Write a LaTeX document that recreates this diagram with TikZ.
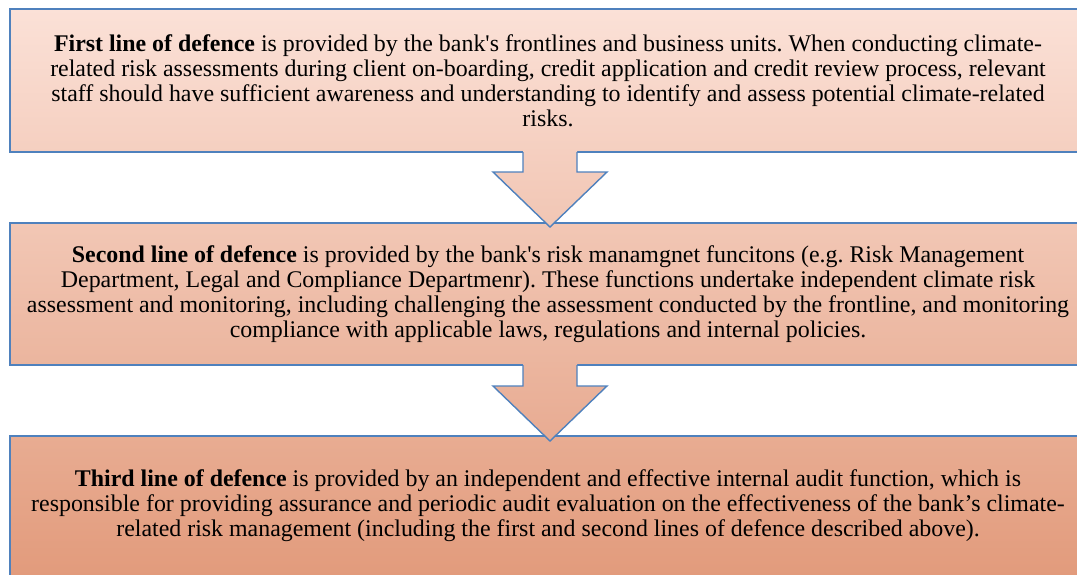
\documentclass[tikz,border=0pt]{standalone}
\usepackage{fontspec}
\setmainfont{Liberation Serif}
\usetikzlibrary{calc,shadows}

\definecolor{edge}{RGB}{79,129,189}
\definecolor{oneT}{RGB}{251,225,215}
\definecolor{oneB}{RGB}{245,207,192}
\definecolor{twoT}{RGB}{242,199,181}
\definecolor{twoB}{RGB}{235,181,158}
\definecolor{threeT}{RGB}{232,172,146}
\definecolor{threeB}{RGB}{226,155,124}
\definecolor{arrA}{RGB}{245,207,192}
\definecolor{arrB}{RGB}{241,198,180}
\definecolor{arrC}{RGB}{235,181,158}
\definecolor{arrD}{RGB}{232,171,146}

\tikzset{
  panel/.style={draw=edge, line width=1.4pt, rectangle, outer sep=0pt,
    minimum width=1076pt, inner sep=0pt,
    drop shadow={shadow xshift=1.2pt, shadow yshift=-1.2pt, opacity=0.35, fill=black!60}},
  textblock/.style={align=center, inner sep=0pt,
    font=\fontsize{23.9}{25}\selectfont\frenchspacing},
  flowedge/.style={draw=edge, line width=1.4pt, line join=miter},
}

\begin{document}
\begin{tikzpicture}[x=1pt,y=-1pt]
\useasboundingbox (0,0) rectangle (1077,574);
\clip (0,0) rectangle (1077,574);

% the three lines of defence (the boxes run on past the right-hand edge)
\node[panel, top color=oneT, bottom color=oneB, minimum height=143pt] (box1) at (548,80.5) {};
\node[textblock] (txt1) at (box1.center)
{\textbf{First line of defence} is provided by the bank\textquotesingle s frontlines and business units. When conducting climate-\\
related risk assessments during client on-boarding, credit application and credit review process, relevant\\
staff should have sufficient awareness and understanding to identify and assess potential climate-related\\
risks.};

\node[panel, top color=twoT, bottom color=twoB, minimum height=142pt] (box2) at (548,294) {};
\node[textblock] (txt2) at (box2.center)
{\textbf{Second line of defence} is provided by the bank\textquotesingle s risk manamgnet funcitons (e.g. Risk Management\\
Department, Legal and Compliance Departmenr). These functions undertake independent climate risk\\
assessment and monitoring, including challenging the assessment conducted by the frontline, and monitoring\\
compliance with applicable laws, regulations and internal policies.};

\node[panel, top color=threeT, bottom color=threeB, minimum height=140pt] (box3) at (548,506) {};
\node[textblock] (txt3) at (box3.center)
{\textbf{Third line of defence} is provided by an independent and effective internal audit function, which is\\
responsible for providing assurance and periodic audit evaluation on the effectiveness of the bank’s climate-\\
related risk management (including the first and second lines of defence described above).};

% block arrows between the boxes
\coordinate (a1) at ($(box1.south)+(2,0)$);
\coordinate (t1) at ($(box2.north)+(2,4)$);
\path[top color=arrA, bottom color=arrB]
  ($(a1)+(-27,-1.5)$) -- ($(a1)+(-27,20)$) -- ($(a1)+(-57,20)$) -- (t1)
  -- ($(a1)+(57,20)$) -- ($(a1)+(27,20)$) -- ($(a1)+(27,-1.5)$) -- cycle;
\draw[flowedge] ($(a1)+(-27,0)$) -- ($(a1)+(-27,20)$) -- ($(a1)+(-57,20)$) -- (t1)
  -- ($(a1)+(57,20)$) -- ($(a1)+(27,20)$) -- ($(a1)+(27,0)$);

\coordinate (a2) at ($(box2.south)+(2,0)$);
\coordinate (t2) at ($(box3.north)+(2,5)$);
\path[top color=arrC, bottom color=arrD]
  ($(a2)+(-27,-1.5)$) -- ($(a2)+(-27,21)$) -- ($(a2)+(-57,21)$) -- (t2)
  -- ($(a2)+(57,21)$) -- ($(a2)+(27,21)$) -- ($(a2)+(27,-1.5)$) -- cycle;
\draw[flowedge] ($(a2)+(-27,0)$) -- ($(a2)+(-27,21)$) -- ($(a2)+(-57,21)$) -- (t2)
  -- ($(a2)+(57,21)$) -- ($(a2)+(27,21)$) -- ($(a2)+(27,0)$);
\end{tikzpicture}
\end{document}
